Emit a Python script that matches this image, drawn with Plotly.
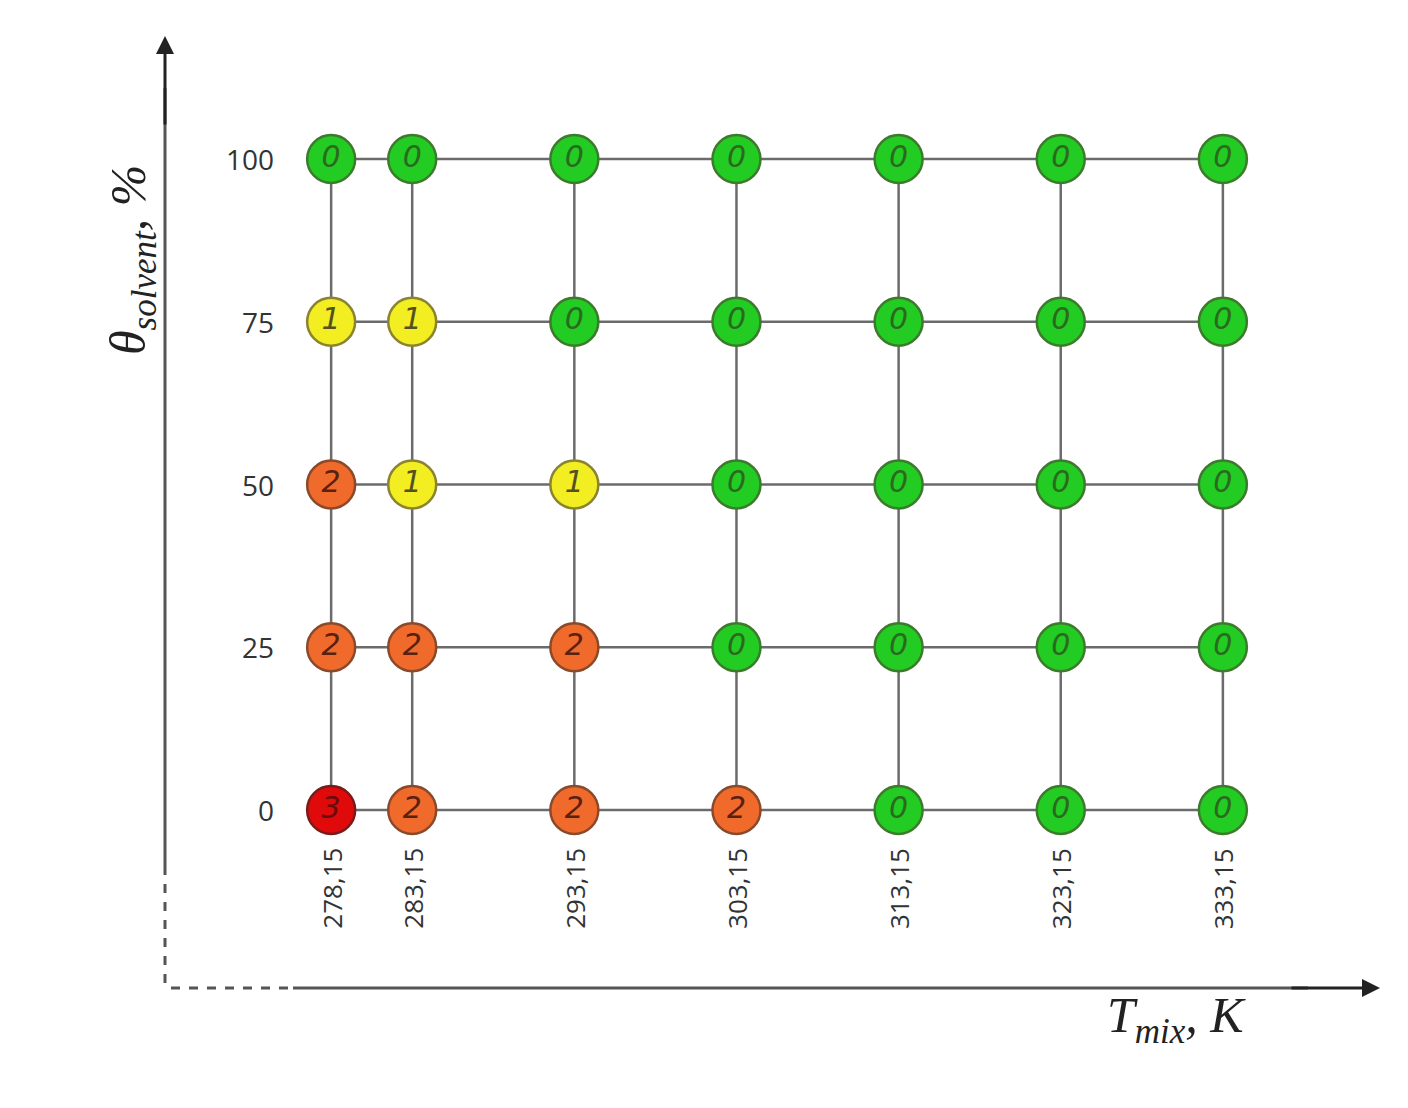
import plotly.graph_objects as go

temps = [278.15, 283.15, 293.15, 303.15, 313.15, 323.15, 333.15]
temp_labels = ["278,15", "283,15", "293,15", "303,15", "313,15", "323,15", "333,15"]
solvent = [0, 25, 50, 75, 100]
# scores[row for solvent][col for temp]
scores = [
    [3, 2, 2, 2, 0, 0, 0],
    [2, 2, 2, 0, 0, 0, 0],
    [2, 1, 1, 0, 0, 0, 0],
    [1, 1, 0, 0, 0, 0, 0],
    [0, 0, 0, 0, 0, 0, 0],
]
colors = {0: "#22cc22", 1: "#f2ee22", 2: "#f06a2c", 3: "#e00a0a"}
edge = {0: "#3d7a2d", 1: "#8a8430", 2: "#8a4a2a", 3: "#7a1a1a"}
txtc = {0: "#2a6a20", 1: "#555020", 2: "#5a2010", 3: "#6a0a0a"}

fig = go.Figure()
grid = "#6b6b6b"
for s in solvent:
    fig.add_trace(go.Scatter(x=[temps[0], temps[-1]], y=[s, s], mode="lines",
                             line=dict(color=grid, width=2.5), hoverinfo="skip"))
for t in temps:
    fig.add_trace(go.Scatter(x=[t, t], y=[solvent[0], solvent[-1]], mode="lines",
                             line=dict(color=grid, width=2.5), hoverinfo="skip"))
xs, ys, cs, es, tx, tc = [], [], [], [], [], []
for i, s in enumerate(solvent):
    for j, t in enumerate(temps):
        v = scores[i][j]
        xs.append(t); ys.append(s); cs.append(colors[v]); es.append(edge[v])
        tx.append(f"<i>{v}</i>"); tc.append(txtc[v])
fig.add_trace(go.Scatter(x=xs, y=ys, mode="markers+text", text=tx,
                         textfont=dict(size=30, color=tc, family="DejaVu Sans"),
                         textposition="middle center",
                         marker=dict(size=48, color=cs, line=dict(color=es, width=2.5))))

L, R, T, B = 155, 1370, 30, 980
W, H = 1408, 1108
def px(x): return (x - L) / (R - L)
def py(y): return (B - y) / (B - T)

ann = []
for s in solvent:
    ann.append(dict(x=px(268), y=s, xref="paper", yref="y", text=str(s), showarrow=False,
                    xanchor="right", font=dict(size=28, color="#333", family="Open Sans")))
for t, lab in zip(temps, temp_labels):
    ann.append(dict(x=t, y=py(838), xref="x", yref="paper", text=lab, textangle=-90,
                    showarrow=False, yanchor="top", font=dict(size=26, color="#333", family="Open Sans")))
# arrows
ann.append(dict(x=px(1372), y=py(980), ax=-90, ay=0, xref="paper", yref="paper",
                axref="pixel", ayref="pixel", text="", showarrow=True, arrowhead=2, arrowsize=1.2,
                arrowwidth=3, arrowcolor="#222"))
ann.append(dict(x=px(157), y=py(28), ax=0, ay=90, xref="paper", yref="paper",
                axref="pixel", ayref="pixel", text="", showarrow=True, arrowhead=2, arrowsize=1.2,
                arrowwidth=3, arrowcolor="#222"))
ann.append(dict(x=px(1240), y=py(1045), xref="paper", yref="paper", showarrow=False,
                text="<i>T<sub>mix</sub>, K</i>", font=dict(size=50, color="#222", family="Liberation Serif")))
ann.append(dict(x=px(90), y=py(155), xref="paper", yref="paper", showarrow=False, textangle=-90,
                text="<i>θ<sub>solvent</sub>, %</i>", font=dict(size=50, color="#222", family="Liberation Serif")))

shapes = [
    dict(type="line", xref="paper", yref="paper", x0=px(285), x1=px(1300), y0=py(980), y1=py(980),
         line=dict(color="#555", width=3)),
    dict(type="line", xref="paper", yref="paper", x0=px(163), x1=px(285), y0=py(980), y1=py(980),
         line=dict(color="#555", width=3, dash="dash")),
    dict(type="line", xref="paper", yref="paper", x0=px(157), x1=px(157), y0=py(860), y1=py(80),
         line=dict(color="#555", width=3)),
    dict(type="line", xref="paper", yref="paper", x0=px(157), x1=px(157), y0=py(975), y1=py(860),
         line=dict(color="#555", width=3, dash="dash")),
]

fig.update_layout(
    width=W, height=H, showlegend=False, plot_bgcolor="white", paper_bgcolor="white",
    margin=dict(l=L, r=W - R, t=T, b=H - B),
    xaxis=dict(range=[278.15 - 168 / 16.2, 333.15 + 155 / 16.2], visible=False),
    yaxis=dict(range=[-178 / 6.51, 100 + 121 / 6.51], visible=False),
    annotations=ann, shapes=shapes,
)
fig.write_html("out.html")
